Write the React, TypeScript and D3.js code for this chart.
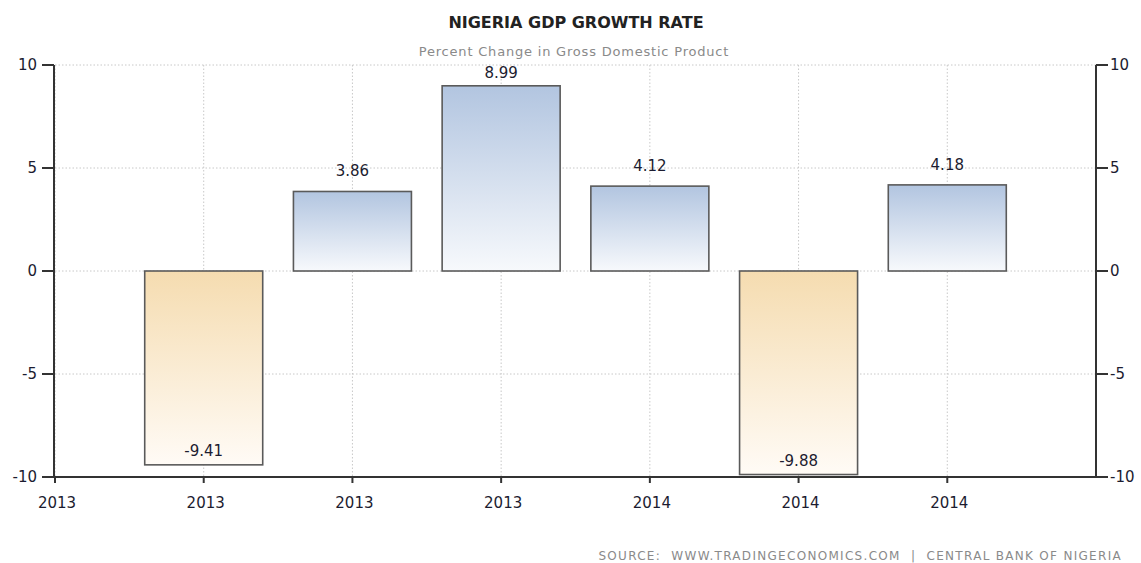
import React from "react";
import * as d3 from "d3";

const tickLabels = ["2013", "2013", "2013", "2013", "2014", "2014", "2014"];
const barSlots = [1, 2, 3, 4, 5, 6];
const values = [-9.41, 3.86, 8.99, 4.12, -9.88, 4.18];
const yTicks = [-10, -5, 0, 5, 10];

const W = 1141;
const H = 563;
const left = 55;
const right = 1096;
const top = 65;
const bottom = 477;
const FONT = "'DejaVu Sans', Verdana, sans-serif";
const TXT = "#1c1c30";

export default function App() {
  const x = d3.scaleLinear().domain([0, 7]).range([left, right]);
  const y = d3.scaleLinear().domain([-10, 10]).range([bottom, top]);
  const barW = 118;
  const tickIdx = d3.range(tickLabels.length);

  return (
    <svg width={W} height={H} style={{ position: "absolute", left: 0, top: 0, background: "#fff" }}>
      <defs>
        <linearGradient id="pos" x1="0" y1="0" x2="0" y2="1">
          <stop offset="0" stopColor="#b2c5e0" />
          <stop offset="1" stopColor="#f7f9fc" />
        </linearGradient>
        <linearGradient id="neg" x1="0" y1="0" x2="0" y2="1">
          <stop offset="0" stopColor="#f5dcb0" />
          <stop offset="1" stopColor="#fffbf6" />
        </linearGradient>
      </defs>

      <text x={576} y={28} textAnchor="middle" fontFamily={FONT} fontSize={16} fill="#222" fontWeight={600}>
        NIGERIA GDP GROWTH RATE
      </text>
      <text x={574} y={56} textAnchor="middle" fontFamily={FONT} fontSize={13} letterSpacing={0.8} fill="#8a8a8a">
        Percent Change in Gross Domestic Product
      </text>

      {yTicks.filter((t) => t !== -10).map((t) => (
        <line key={"hg" + t} x1={left} x2={right} y1={y(t)} y2={y(t)} stroke="#c8c8c8" strokeDasharray="1.5,2" />
      ))}
      {tickIdx.map((i) => (
        <line key={"vg" + i} x1={x(i)} x2={x(i)} y1={top} y2={bottom} stroke="#c8c8c8" strokeDasharray="1.5,2" />
      ))}

      {values.map((v, i) => {
        const cx = x(barSlots[i]);
        const y0 = y(0);
        const yv = y(v);
        return (
          <rect
            key={"b" + i}
            x={cx - barW / 2}
            y={Math.min(y0, yv)}
            width={barW}
            height={Math.abs(yv - y0)}
            fill={v >= 0 ? "url(#pos)" : "url(#neg)"}
            stroke="#5a5a5a"
            strokeWidth={1.6}
          />
        );
      })}
      {values.map((v, i) => {
        const cx = x(barSlots[i]);
        const ty = v >= 0 ? Math.max(y(v) - 15, top + 13) : y(v) - 9;
        return (
          <text key={"l" + i} x={cx} y={ty} textAnchor="middle" fontFamily={FONT} fontSize={15} fill={TXT}>
            {v.toFixed(2)}
          </text>
        );
      })}

      <line x1={left - 1} x2={left - 1} y1={top} y2={bottom + 1} stroke="#333" strokeWidth={2} />
      <line x1={right} x2={right} y1={top} y2={bottom + 1} stroke="#333" strokeWidth={2} />
      <line x1={left - 2} x2={right + 1} y1={bottom} y2={bottom} stroke="#333" strokeWidth={2} />

      {yTicks.map((t) => (
        <g key={"yt" + t}>
          <line x1={left - 13} x2={left - 1} y1={y(t)} y2={y(t)} stroke="#333" strokeWidth={2} />
          <text x={left - 18} y={y(t) + 5} textAnchor="end" fontFamily={FONT} fontSize={15} fill={TXT}>
            {t}
          </text>
          <line x1={right} x2={right + 12} y1={y(t)} y2={y(t)} stroke="#333" strokeWidth={2} />
          <text x={right + 14} y={y(t) + 5} textAnchor="start" fontFamily={FONT} fontSize={15} fill={TXT}>
            {t}
          </text>
        </g>
      ))}

      {tickIdx.map((i) => (
        <g key={"xt" + i}>
          <line x1={x(i)} x2={x(i)} y1={bottom} y2={bottom + 6} stroke="#333" strokeWidth={2} />
          <text x={x(i) + 2} y={bottom + 31} textAnchor="middle" fontFamily={FONT} fontSize={15} fill={TXT}>
            {tickLabels[i]}
          </text>
        </g>
      ))}

      <text x={1122} y={560} textAnchor="end" fontFamily={FONT} fontSize={12} fill="#8a8a8a" letterSpacing={1.3} style={{ whiteSpace: "pre" }}>
        {"SOURCE:  WWW.TRADINGECONOMICS.COM  |  CENTRAL BANK OF NIGERIA"}
      </text>
    </svg>
  );
}
